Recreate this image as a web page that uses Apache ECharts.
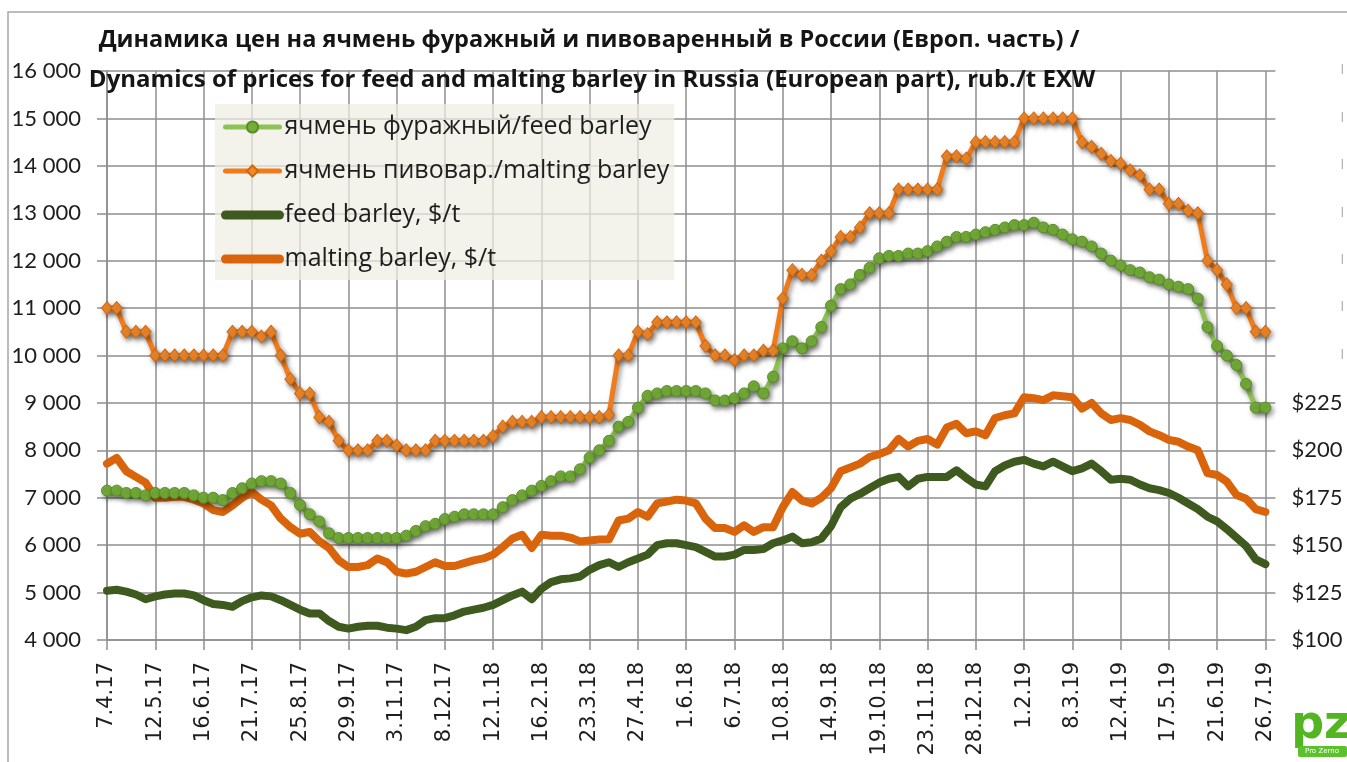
<!DOCTYPE html>
<html>
<head>
<meta charset="utf-8">
<script src="https://cdn.jsdelivr.net/npm/echarts@6/dist/echarts.min.js"></script>
<style>
html,body{margin:0;padding:0;background:#fff;}
#c{width:1347px;height:762px;}
</style>
</head>
<body>
<div id="c"></div>
<script>
// weekly dates from 7.4.17 to 26.7.19 (121 weeks)
const startDate = Date.UTC(2017, 3, 7);
const weekCount = 121;
const categories = [];
for (let i = 0; i < weekCount; i++) {
  const d = new Date(startDate + i * 7 * 86400000);
  categories.push(d.getUTCDate() + '.' + (d.getUTCMonth() + 1) + '.' + String(d.getUTCFullYear()).slice(2));
}

const seriesNames = [
  'ячмень фуражный/feed barley',
  'ячмень пивовар./malting barley',
  'feed barley, $/t',
  'malting barley, $/t'
];

const feedRub = [
  7150, 7150, 7100, 7100, 7050, 7100, 7100, 7100, 7100, 7050,
  7000, 7000, 6950, 7100, 7200, 7300, 7350, 7350, 7300, 7100,
  6850, 6650, 6500, 6250, 6150, 6150, 6150, 6150, 6150, 6150,
  6150, 6200, 6300, 6400, 6450, 6550, 6600, 6650, 6650, 6650,
  6650, 6800, 6950, 7050, 7150, 7250, 7350, 7450, 7450, 7600,
  7850, 8000, 8200, 8500, 8600, 8900, 9150, 9200, 9250, 9250,
  9250, 9250, 9200, 9050, 9050, 9100, 9200, 9350, 9200, 9550,
  10150, 10300, 10150, 10300, 10600, 11050, 11400, 11500, 11700, 11850,
  12050, 12100, 12100, 12150, 12150, 12200, 12300, 12400, 12500, 12500,
  12550, 12600, 12650, 12700, 12750, 12750, 12800, 12700, 12650, 12550,
  12450, 12400, 12300, 12150, 12000, 11900, 11800, 11750, 11650, 11600,
  11500, 11450, 11400, 11200, 10600, 10200, 10000, 9800, 9400, 8900,
  8900
];

const maltRub = [
  11000, 11000, 10500, 10500, 10500, 10000, 10000, 10000, 10000, 10000,
  10000, 10000, 10000, 10500, 10500, 10500, 10400, 10500, 10000, 9500,
  9200, 9200, 8700, 8600, 8200, 8000, 8000, 8000, 8200, 8200,
  8100, 8000, 8000, 8000, 8200, 8200, 8200, 8200, 8200, 8200,
  8300, 8500, 8600, 8600, 8600, 8700, 8700, 8700, 8700, 8700,
  8700, 8700, 8750, 10000, 10000, 10500, 10450, 10700, 10700, 10700,
  10700, 10700, 10200, 10000, 10000, 9900, 10000, 10000, 10100, 10100,
  11200, 11800, 11700, 11700, 12000, 12200, 12500, 12500, 12700, 13000,
  13000, 13000, 13500, 13500, 13500, 13500, 13500, 14200, 14200, 14150,
  14500, 14500, 14500, 14500, 14500, 15000, 15000, 15000, 15000, 15000,
  15000, 14500, 14400, 14250, 14100, 14050, 13900, 13800, 13500, 13500,
  13200, 13200, 13050, 13000, 12000, 11800, 11500, 11000, 11000, 10500,
  10500
];

const feedUsd = [
  126, 126.5, 125.5, 124, 121.5, 123, 124, 124.5, 124.5, 123.5,
  121, 119, 118.5, 117.5, 120.5, 122.5, 123.5, 123, 121, 118.5,
  116, 114, 114, 110, 107, 106, 107, 107.5, 107.5, 106.5,
  106, 105.2, 107, 110.5, 111.5, 111.5, 113, 115, 116, 117,
  118.5, 121, 123.5, 125.5, 121.5, 127, 130.5, 132, 132.5, 133.5,
  137, 139.5, 141, 138.5, 141, 143, 145, 150, 151, 151,
  150, 149, 146.5, 144, 144, 145, 147.5, 147.5, 148, 151,
  152.5, 154.5, 151, 151.5, 153.5, 160, 170, 174.5, 177, 180,
  183, 185, 186, 181, 185, 186, 186, 186, 189.5, 185.5,
  182, 181, 189, 192, 194, 195, 193, 191.5, 194, 191.5,
  189, 190.5, 193, 189, 184.5, 185, 184.5, 182, 180, 179,
  177.5, 175, 172, 169, 165, 162.5, 158.5, 154, 149.5, 142.5,
  140
];

const maltUsd = [
  193, 196, 189, 186, 183, 175, 175, 175.5, 175.5, 174,
  172, 168.5, 167.5, 171, 175, 178, 174, 171, 164, 159.5,
  156, 157, 152, 148.5, 142, 138.5, 138.5, 139.5, 143, 141,
  136, 135, 136, 138.5, 141, 139, 139, 140.5, 142, 143,
  145, 149, 153.5, 155.5, 148.5, 155.5, 155, 155, 154, 152,
  152.5, 153, 153, 163, 164, 167.5, 165, 172, 173, 174,
  173.5, 172, 164, 159, 159, 157, 160.5, 157, 159.5, 159.5,
  170, 178, 173.5, 172, 175, 180, 189, 191, 193, 196.5,
  198, 200, 206, 202, 205, 206, 203, 212, 214, 209,
  210, 208, 217, 218.5, 219.5, 228, 227.5, 226.5, 229, 228.5,
  228, 222, 225, 219.5, 216, 217, 216, 213.5, 210, 208,
  205.5, 204.5, 202, 200, 188, 187, 183.5, 176.5, 174.5, 169,
  167.5
];

const titleLines = [
  'Динамика цен на ячмень фуражный и пивоваренный в России (Европ. часть) /',
  'Dynamics of prices for feed and malting barley in Russia (European part), rub./t EXW'
];

const gridColor = '#8e8e8e';
const fmtThousands = v => String(v).replace(/\B(?=(\d{3})+(?!\d))/g, ' ');

const chart = echarts.init(document.getElementById('c'), null, {renderer: 'canvas'});

const shadow = {shadowColor: 'rgba(0,0,0,0.4)', shadowBlur: 5, shadowOffsetX: 2, shadowOffsetY: 3};
const hiddenSymbol = {color: 'rgba(0,0,0,0)', borderColor: 'rgba(0,0,0,0)', borderWidth: 0};

const option = {
  animation: false,
  backgroundColor: '#ffffff',
  grid: {left: 107, right: 78, top: 71, bottom: 122, containLabel: false},
  graphic: [
    {type: 'rect', silent: true, z: -1, shape: {x: 8, y: 12, width: 1400, height: 800},
     style: {fill: 'none', stroke: '#a6a6a6', lineWidth: 1.5}},
    {type: 'text', z: 10, style: {x: 589, y: 40, text: titleLines[0], textAlign: 'center', textVerticalAlign: 'middle',
      fontFamily: 'Open Sans', fontWeight: 'bold', fontSize: 23.5, fill: '#151515'}},
    {type: 'text', z: 10, style: {x: 592, y: 80, text: titleLines[1], textAlign: 'center', textVerticalAlign: 'middle',
      fontFamily: 'Open Sans', fontWeight: 'bold', fontSize: 24, fill: '#151515'}},
    {type: 'text', z: 10, style: {x: 1321, y: 726, text: 'pz', textAlign: 'center', textVerticalAlign: 'middle',
      fontFamily: 'DejaVu Sans', fontWeight: 'bold', fontSize: 46, fill: '#52b521'}},
    {type: 'rect', z: 10, shape: {x: 1298, y: 746, width: 49, height: 11, r: 2}, style: {fill: '#5cc12a'}},
    {type: 'text', z: 11, style: {x: 1322, y: 751.5, text: 'Pro Zerno', textAlign: 'center', textVerticalAlign: 'middle',
      fontFamily: 'DejaVu Sans', fontSize: 7, fill: '#ffffff'}}
  ],
  legend: {
    orient: 'vertical',
    left: 215,
    top: 104,
    padding: [8, 5, 6, 6],
    itemGap: 14,
    itemWidth: 54,
    itemHeight: 14,
    backgroundColor: 'rgba(238,238,228,0.72)',
    textStyle: {fontFamily: 'Open Sans', fontSize: 25, color: '#1e1e1e', lineHeight: 30},
    data: [
      {name: seriesNames[0], lineStyle: {width: 5}},
      {name: seriesNames[1], lineStyle: {width: 5}},
      {name: seriesNames[2], lineStyle: {width: 9}, itemStyle: hiddenSymbol},
      {name: seriesNames[3], lineStyle: {width: 9}, itemStyle: hiddenSymbol}
    ]
  },
  xAxis: {
    type: 'category',
    data: categories,
    boundaryGap: false,
    axisLine: {show: true, lineStyle: {color: gridColor, width: 1.5}},
    axisTick: {show: true, interval: 4, length: 10, lineStyle: {color: gridColor, width: 1.5}},
    axisLabel: {interval: 4, rotate: 90, margin: 22, fontFamily: 'DejaVu Sans', fontSize: 21, color: '#1e1e1e'},
    splitLine: {show: true, interval: 4, lineStyle: {color: gridColor, width: 1.5}}
  },
  yAxis: [
    {
      type: 'value', min: 4000, max: 16000, interval: 1000,
      axisLine: {show: true, lineStyle: {color: gridColor, width: 1.5}},
      axisTick: {show: true, length: 10, lineStyle: {color: gridColor, width: 1.5}},
      axisLabel: {margin: 26, fontFamily: 'Lato', fontSize: 22, color: '#1e1e1e', formatter: v => fmtThousands(v)},
      splitLine: {show: true, lineStyle: {color: gridColor, width: 1.5}}
    },
    {
      type: 'value', min: 100, max: 400, interval: 25, position: 'right',
      axisLine: {show: false},
      axisTick: {show: true, length: 10, lineStyle: {color: gridColor, width: 1.5}},
      axisLabel: {
        margin: 26, fontFamily: 'Lato', fontSize: 22, color: '#1e1e1e',
        formatter: v => v <= 225 ? '$' + v : '{b|l}',
        rich: {b: {padding: [0, 0, 0, 49], color: '#b0b0b0', fontSize: 13, fontFamily: 'DejaVu Sans'}}
      },
      splitLine: {show: false}
    }
  ],
  series: [
    {
      name: seriesNames[0], type: 'line', data: feedRub, yAxisIndex: 0,
      symbol: 'circle', symbolSize: 11, showSymbol: true, showAllSymbol: true,
      lineStyle: Object.assign({color: '#8fc255', width: 5, cap: 'round', join: 'round'}, shadow),
      itemStyle: Object.assign({color: '#74ad38', borderColor: '#5a8c28', borderWidth: 1}, shadow)
    },
    {
      name: seriesNames[1], type: 'line', data: maltRub, yAxisIndex: 0,
      symbol: 'diamond', symbolSize: [11, 13], showSymbol: true, showAllSymbol: true,
      lineStyle: Object.assign({color: '#ef7b1b', width: 5, cap: 'round', join: 'round'}, shadow),
      itemStyle: Object.assign({color: '#f28a2c', borderColor: '#cf670f', borderWidth: 1}, shadow)
    },
    {
      name: seriesNames[2], type: 'line', data: feedUsd, yAxisIndex: 1,
      symbol: 'none',
      lineStyle: {color: '#3e5a1f', width: 8, cap: 'round', join: 'round'},
      itemStyle: {color: '#3e5a1f'}
    },
    {
      name: seriesNames[3], type: 'line', data: maltUsd, yAxisIndex: 1,
      symbol: 'none',
      lineStyle: {color: '#d9640c', width: 8, cap: 'round', join: 'round'},
      itemStyle: {color: '#d9640c'}
    }
  ]
};
chart.setOption(option);
</script>
</body>
</html>
